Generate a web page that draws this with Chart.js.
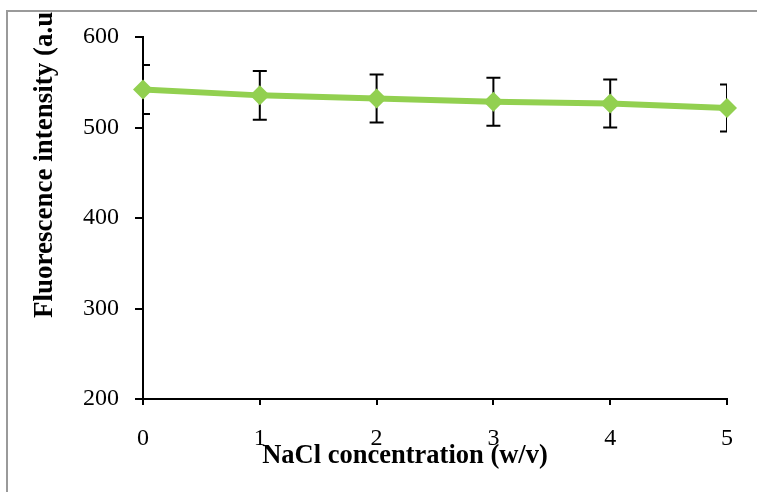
<!DOCTYPE html>
<html>
<head>
<meta charset="utf-8">
<script src="https://cdn.jsdelivr.net/npm/chart.js@4"></script>
<style>
  html, body { margin: 0; padding: 0; background: #fff; }
  canvas { display: block; }
</style>
</head>
<body>
<canvas id="chart" width="757" height="492"></canvas>
<script>
const concentrations = [0, 1, 2, 3, 4, 5];
const intensity = [542, 535.5, 532, 528.5, 526.5, 521.5];
const errors = [27, 27, 26.5, 26.5, 26.5, 26];
const xTicks = [0, 1, 2, 3, 4, 5];
const yTicks = [200, 300, 400, 500, 600];
const xTitle = 'NaCl concentration (w/v)';
const yTitle = 'Fluorescence intensity (a.u.)';

const serif = "'Liberation Serif', 'Times New Roman', serif";
const green = '#92D050';

// white page with the grey frame lines at top and left
const framePlugin = {
    id: 'frame',
    beforeDraw(chart) {
        const ctx = chart.ctx;
        ctx.save();
        ctx.fillStyle = '#fff';
        ctx.fillRect(0, 0, chart.width, chart.height);
        ctx.restore();
    },
    afterDraw(chart) {
        const ctx = chart.ctx;
        ctx.save();
        ctx.strokeStyle = '#9a9a9a';
        ctx.lineWidth = 2;
        ctx.beginPath();
        ctx.moveTo(7, chart.height);
        ctx.lineTo(7, 11);
        ctx.lineTo(chart.width, 11);
        ctx.stroke();
        ctx.restore();
    }
};

const errorBarPlugin = {
    id: 'errorBars',
    beforeDatasetsDraw(chart) {
        const ctx = chart.ctx;
        const xs = chart.scales.x;
        const ys = chart.scales.y;
        const area = chart.chartArea;
        ctx.save();
        // caps at both ends are cut by the plot area, as in the original
        ctx.beginPath();
        ctx.rect(area.left, 0, area.right - area.left, chart.height);
        ctx.clip();
        ctx.strokeStyle = '#000';
        ctx.lineWidth = 2;
        concentrations.forEach((c, i) => {
            const x = xs.getPixelForValue(c);
            const top = ys.getPixelForValue(intensity[i] + errors[i]);
            const bottom = ys.getPixelForValue(intensity[i] - errors[i]);
            ctx.beginPath();
            ctx.moveTo(x, top);
            ctx.lineTo(x, bottom);
            ctx.moveTo(x - 7, top);
            ctx.lineTo(x + 7, top);
            ctx.moveTo(x - 7, bottom);
            ctx.lineTo(x + 7, bottom);
            ctx.stroke();
        });
        ctx.restore();
    }
};

const titlesPlugin = {
    id: 'titles',
    afterDraw(chart) {
        const ctx = chart.ctx;
        ctx.save();
        ctx.fillStyle = '#000';
        ctx.font = 'bold 26.5px ' + serif;
        ctx.textAlign = 'center';
        ctx.textBaseline = 'alphabetic';
        ctx.fillText(xTitle, 405, 463);

        ctx.beginPath();
        ctx.rect(0, 12, chart.width, chart.height);
        ctx.clip();
        ctx.font = 'bold 27px ' + serif;
        ctx.translate(52, 318);
        ctx.rotate(-Math.PI / 2);
        ctx.textAlign = 'left';
        ctx.fillText(yTitle, 0, 0);
        ctx.restore();
    }
};

new Chart(document.getElementById('chart'), {
    type: 'line',
    data: {
        datasets: [{
            data: concentrations.map((c, i) => ({ x: c, y: intensity[i] })),
            borderColor: green,
            backgroundColor: green,
            borderWidth: 6,
            pointStyle: 'rectRot',
            pointRadius: 10,
            pointBorderWidth: 0,
            pointBackgroundColor: green,
            tension: 0,
            clip: false
        }]
    },
    options: {
        responsive: false,
        animation: false,
        devicePixelRatio: 1,
        layout: { padding: { top: 37, right: 30, left: 0, bottom: 0 } },
        plugins: {
            legend: { display: false },
            tooltip: { enabled: false }
        },
        scales: {
            x: {
                type: 'linear',
                min: 0,
                max: 5,
                afterBuildTicks: s => { s.ticks = xTicks.map(v => ({ value: v })); },
                afterFit: s => { s.height = 93; },
                border: { display: true, color: '#000', width: 2 },
                grid: { drawOnChartArea: false, drawTicks: true, tickLength: 6, color: '#000', lineWidth: 2 },
                ticks: { color: '#000', font: { family: serif, size: 24 }, padding: 19, maxRotation: 0 }
            },
            y: {
                min: 200,
                max: 600,
                afterBuildTicks: s => { s.ticks = yTicks.map(v => ({ value: v })); },
                afterFit: s => { s.width = 143; },
                border: { display: true, color: '#000', width: 2 },
                grid: { drawOnChartArea: false, drawTicks: true, tickLength: 8, color: '#000', lineWidth: 2 },
                ticks: { color: '#000', font: { family: serif, size: 24 }, padding: 16 }
            }
        }
    },
    plugins: [framePlugin, errorBarPlugin, titlesPlugin]
});
</script>
</body>
</html>
